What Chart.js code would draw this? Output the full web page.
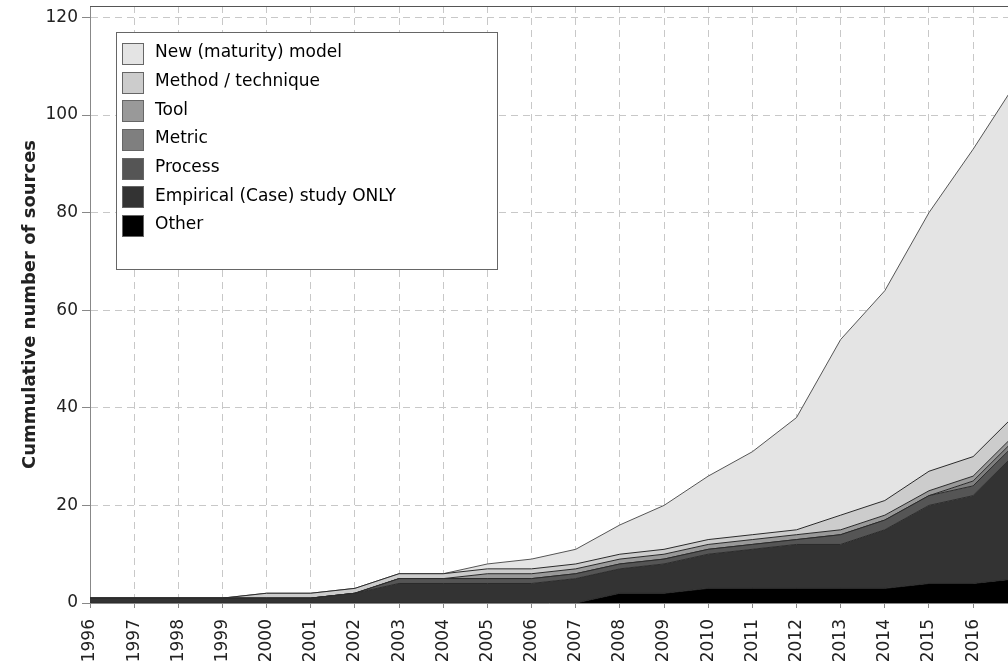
<!DOCTYPE html>
<html>
<head>
<meta charset="utf-8">
<script src="https://cdn.jsdelivr.net/npm/chart.js@4.4.0/dist/chart.umd.min.js"></script>
<style>
  body { margin: 0; background: #fff; }
  canvas { display: block; }
</style>
</head>
<body>
<canvas id="myChart" width="1008" height="668"></canvas>
<script>
// years on the x axis (the last one is cut off by the right edge, like the picture)
const years = [1996, 1997, 1998, 1999, 2000, 2001, 2002, 2003, 2004, 2005, 2006,
               2007, 2008, 2009, 2010, 2011, 2012, 2013, 2014, 2015, 2016, 2017];

// cumulative counts per category, bottom layer first
const other     = [0, 0, 0, 0, 0, 0, 0, 0, 0, 0, 0, 0, 2, 2, 3, 3, 3, 3, 3, 4, 4, 5];
const empirical = [1, 1, 1, 1, 1, 1, 2, 4, 4, 4, 4, 5, 5, 6, 7, 8, 9, 9, 12, 16, 18, 26];
const process   = [0, 0, 0, 0, 0, 0, 0, 1, 1, 1, 1, 1, 1, 1, 1, 1, 1, 2, 2, 2, 2, 2];
const metric    = [0, 0, 0, 0, 0, 0, 0, 0, 0, 0, 0, 0, 0, 0, 0, 0, 0, 0, 0, 0, 1, 1];
const tool      = [0, 0, 0, 0, 0, 0, 0, 0, 0, 1, 1, 1, 1, 1, 1, 1, 1, 1, 1, 1, 1, 1];
const method    = [0, 0, 0, 0, 1, 1, 1, 1, 1, 1, 1, 1, 1, 1, 1, 1, 1, 3, 3, 4, 4, 4];
const newModel  = [0, 0, 0, 0, 0, 0, 0, 0, 0, 1, 2, 3, 6, 9, 13, 17, 23, 36, 43, 53, 63, 68];

const seriesNames  = ['Other', 'Empirical (Case) study ONLY', 'Process', 'Metric', 'Tool',
                      'Method / technique', 'New (maturity) model'];
const seriesValues = [other, empirical, process, metric, tool, method, newModel];
const seriesColors = ['#000000', '#333333', '#555555', '#7f7f7f', '#999999', '#cccccc', '#e4e4e4'];

const xTickYears = [1996, 1997, 1998, 1999, 2000, 2001, 2002, 2003, 2004, 2005, 2006,
                    2007, 2008, 2009, 2010, 2011, 2012, 2013, 2014, 2015, 2016];
const yTicks = [0, 20, 40, 60, 80, 100, 120];

const FONT = 'DejaVu Sans';

// building stacked area datasets
let datasets = seriesValues.map((vals, i) => ({
    label: seriesNames[i],
    data: years.map((yr, j) => ({ x: yr, y: vals[j] })),
    backgroundColor: seriesColors[i],
    borderColor: i === seriesValues.length - 1 ? '#555555' : '#2a2a2a',
    borderWidth: 1,
    pointRadius: 0,
    tension: 0,
    fill: i === 0 ? 'origin' : '-1'
}));

// legend box inside the plot, plus the top frame line
const boxLegend = {
    id: 'boxLegend',
    afterDraw(chart) {
        const ctx = chart.ctx;
        const area = chart.chartArea;
        ctx.save();
        ctx.strokeStyle = '#555';
        ctx.lineWidth = 1;
        ctx.beginPath();
        ctx.moveTo(area.left, area.top + 0.5);
        ctx.lineTo(area.right, area.top + 0.5);
        ctx.stroke();

        ctx.fillStyle = '#fff';
        ctx.fillRect(116.5, 32.5, 381, 237);
        ctx.strokeStyle = '#666';
        ctx.strokeRect(116.5, 32.5, 381, 237);

        ctx.font = '17px "' + FONT + '"';
        ctx.textBaseline = 'middle';
        ctx.textAlign = 'left';
        let items = chart.data.datasets.slice().reverse();
        items.forEach((ds, i) => {
            let y = 53 + i * 28.65;
            ctx.fillStyle = ds.backgroundColor;
            ctx.fillRect(122.5, Math.round(y - 10) + 0.5, 21, 21);
            ctx.strokeStyle = '#666';
            ctx.strokeRect(122.5, Math.round(y - 10) + 0.5, 21, 21);
            ctx.fillStyle = '#000';
            ctx.fillText(ds.label, 155, y);
        });
        ctx.restore();
    }
};

let ctx = document.getElementById('myChart').getContext('2d');
let myChart = new Chart(ctx, {
    type: 'line',
    data: { datasets: datasets },
    options: {
        responsive: false,
        animation: false,
        layout: { padding: { top: 6, right: 0, left: 0, bottom: 0 } },
        plugins: {
            legend: { display: false },
            tooltip: { enabled: false }
        },
        scales: {
            x: {
                type: 'linear',
                min: 1996,
                max: 2016.79,
                afterBuildTicks: s => { s.ticks = xTickYears.map(v => ({ value: v })); },
                afterFit: s => { s.height = 65; s.paddingLeft = 0; s.paddingRight = 0; },
                ticks: {
                    autoSkip: false,
                    minRotation: 90,
                    maxRotation: 90,
                    padding: 11,
                    color: '#222',
                    font: { family: FONT, size: 17 },
                    callback: v => String(v)
                },
                grid: { color: '#c8c8c8', tickColor: '#888', tickLength: 5, tickBorderDash: [] },
                border: { color: '#888', width: 1, dash: [7, 5] }
            },
            y: {
                stacked: true,
                min: 0,
                max: 122.35,
                afterBuildTicks: s => { s.ticks = yTicks.map(v => ({ value: v })); },
                afterFit: s => { s.width = 90; s.paddingTop = 0; s.paddingBottom = 0; },
                ticks: {
                    padding: 4,
                    color: '#222',
                    font: { family: FONT, size: 17 }
                },
                grid: { color: '#c8c8c8', tickColor: '#888', tickLength: 8, tickBorderDash: [] },
                border: { color: '#888', width: 1, dash: [7, 5] },
                title: {
                    display: true,
                    text: 'Cummulative number of sources',
                    color: '#222',
                    font: { family: FONT, size: 18, weight: 'bold' },
                    padding: { top: 20, bottom: 0 }
                }
            }
        }
    },
    plugins: [boxLegend]
});
</script>
</body>
</html>
